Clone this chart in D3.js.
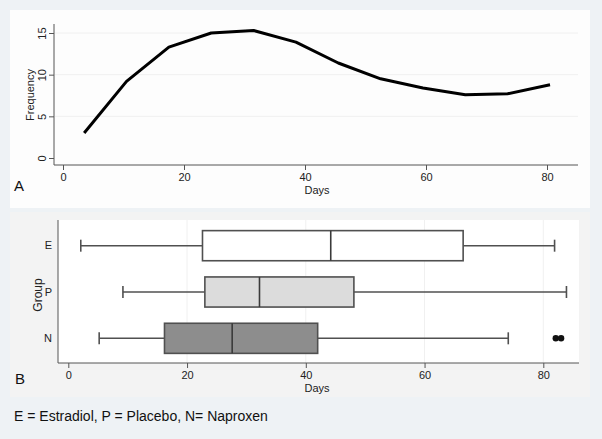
<!DOCTYPE html>
<html>
<head>
<meta charset="utf-8">
<script src="https://cdn.jsdelivr.net/npm/d3@7"></script>
<style>
  body { margin: 0; background: #eef2f5; }
  svg { display: block; font-family: "Liberation Sans", Arial, sans-serif; }
</style>
</head>
<body>
<svg id="chart" width="602" height="439"></svg>
<script>
// panel A: frequency polygon, bin midpoints in days
var days = [3.5, 10.5, 17.5, 24.5, 31.5, 38.5, 45.5, 52.5, 59.5, 66.5, 73.5, 80.5];
var freq = [3, 9.2, 13.3, 15, 15.3, 13.9, 11.4, 9.5, 8.4, 7.6, 7.7, 8.8];
var freqTicks = [0, 5, 10, 15];
var dayTicks = [0, 20, 40, 60, 80];

// panel B: boxplots by group
var groups = ["E", "P", "N"];
var lowWhisker = [2.1, 9.2, 5.2];
var q1 = [22.6, 23, 16.2];
var median = [44.2, 32.2, 27.6];
var q3 = [66.5, 48.1, 42];
var highWhisker = [81.9, 83.9, 74.1];
var outliers = [[], [], [82.1, 83]];
var boxFill = ["#ffffff", "#dcdcdc", "#8d8d8d"];

var svg = d3.select("#chart");

// backgrounds
svg.append("rect").attr("width", 602).attr("height", 439).attr("fill", "#eef2f5");
svg.append("rect").attr("x", 10).attr("y", 10).attr("width", 580).attr("height", 198).attr("fill", "#fdfdfd");
svg.append("rect").attr("x", 10).attr("y", 212).attr("width", 580).attr("height", 185).attr("fill", "#f3f3f3");
svg.append("rect").attr("x", 58).attr("y", 220).attr("width", 521).attr("height", 143).attr("fill", "#ffffff");

function styleAxis(a) {
    a.selectAll("line, .domain").attr("stroke", "#555");
    a.selectAll("text").attr("fill", "#222").style("font-size", "11px");
}

// ---- panel A
var xA = d3.scaleLinear().domain([0, 80]).range([63, 547]);
var yA = d3.scaleLinear().domain([0, 15]).range([158, 33]);

var gA = svg.append("g");
gA.selectAll(".grid").data(freqTicks.slice(1)).enter().append("line")
    .attr("x1", 55).attr("x2", 578)
    .attr("y1", d => yA(d)).attr("y2", d => yA(d))
    .attr("stroke", "#f0f0f0").attr("stroke-width", 1);

var axA = gA.append("g").attr("transform", "translate(0,165)")
    .call(d3.axisBottom(xA).tickValues(dayTicks).tickSize(5).tickSizeOuter(0));
axA.select(".domain").attr("d", "M54,0H578");

var ayA = gA.append("g").attr("transform", "translate(54,0)")
    .call(d3.axisLeft(yA).tickValues(freqTicks).tickSize(5).tickSizeOuter(0));
ayA.select(".domain").attr("d", "M0,24V165");
// Stata-style vertical tick labels
ayA.selectAll(".tick text")
    .attr("x", 0).attr("y", 0).attr("dy", 0)
    .attr("text-anchor", "middle")
    .attr("transform", "translate(-8,0) rotate(-90)");
styleAxis(axA);
styleAxis(ayA);

gA.append("path")
    .datum(days.map((d, i) => [d, freq[i]]))
    .attr("fill", "none").attr("stroke", "#000").attr("stroke-width", 3)
    .attr("stroke-linejoin", "round")
    .attr("d", d3.line().x(d => xA(d[0])).y(d => yA(d[1])));

gA.append("text").attr("x", 317).attr("y", 194).attr("text-anchor", "middle")
    .style("font-size", "11px").attr("fill", "#222").text("Days");
gA.append("text").attr("transform", "translate(34,95) rotate(-90)").attr("text-anchor", "middle")
    .style("font-size", "11px").attr("fill", "#222").text("Frequency");
gA.append("text").attr("x", 14).attr("y", 191).style("font-size", "15px").attr("fill", "#111").text("A");

// ---- panel B
var xB = d3.scaleLinear().domain([0, 80]).range([68.3, 543.3]);
var yB = d3.scaleBand().domain(groups).range([226, 358]).paddingInner(0.35).paddingOuter(0.1);

var gB = svg.append("g");
gB.selectAll(".vgrid").data(dayTicks.slice(1)).enter().append("line")
    .attr("x1", d => xB(d)).attr("x2", d => xB(d))
    .attr("y1", 220).attr("y2", 363)
    .attr("stroke", "#f0f0f0").attr("stroke-width", 1);

var axB = gB.append("g").attr("transform", "translate(0,363)")
    .call(d3.axisBottom(xB).tickValues(dayTicks).tickSize(5).tickSizeOuter(0));
axB.select(".domain").attr("d", "M58,0H579");
var ayB = gB.append("g").attr("transform", "translate(58,0)")
    .call(d3.axisLeft(yB).tickSize(0).tickPadding(6));
ayB.select(".domain").attr("d", "M0,220V363");
styleAxis(axB);
styleAxis(ayB);

var mid = d => yB(d) + yB.bandwidth() / 2;
var boxes = gB.selectAll(".box").data(groups).enter().append("g");
var sw = 1.6, col = "#505050";
boxes.append("line")
    .attr("x1", (d, i) => xB(lowWhisker[i])).attr("x2", (d, i) => xB(q1[i]))
    .attr("y1", mid).attr("y2", mid)
    .attr("stroke", col).attr("stroke-width", sw);
boxes.append("line")
    .attr("x1", (d, i) => xB(q3[i])).attr("x2", (d, i) => xB(highWhisker[i]))
    .attr("y1", mid).attr("y2", mid)
    .attr("stroke", col).attr("stroke-width", sw);
boxes.selectAll(".cap").data((d, i) => [[d, lowWhisker[i]], [d, highWhisker[i]]]).enter().append("line")
    .attr("x1", d => xB(d[1])).attr("x2", d => xB(d[1]))
    .attr("y1", d => mid(d[0]) - 6).attr("y2", d => mid(d[0]) + 6)
    .attr("stroke", col).attr("stroke-width", sw);
boxes.append("rect")
    .attr("x", (d, i) => xB(q1[i])).attr("width", (d, i) => xB(q3[i]) - xB(q1[i]))
    .attr("y", d => yB(d)).attr("height", yB.bandwidth())
    .attr("fill", (d, i) => boxFill[i]).attr("stroke", col).attr("stroke-width", sw);
boxes.append("line")
    .attr("x1", (d, i) => xB(median[i])).attr("x2", (d, i) => xB(median[i]))
    .attr("y1", d => yB(d)).attr("y2", d => yB(d) + yB.bandwidth())
    .attr("stroke", "#3a3a3a").attr("stroke-width", sw);
boxes.selectAll(".out").data((d, i) => outliers[i].map(v => [d, v])).enter().append("circle")
    .attr("cx", d => xB(d[1])).attr("cy", d => mid(d[0]))
    .attr("r", 3.2).attr("fill", "#111");

gB.append("text").attr("x", 317).attr("y", 392).attr("text-anchor", "middle")
    .style("font-size", "11px").attr("fill", "#222").text("Days");
gB.append("text").attr("transform", "translate(42,295) rotate(-90)").attr("text-anchor", "middle")
    .style("font-size", "12px").attr("fill", "#222").text("Group");
gB.append("text").attr("x", 15).attr("y", 384).style("font-size", "15px").attr("fill", "#111").text("B");

svg.append("text").attr("x", 14).attr("y", 421).style("font-size", "14px").attr("fill", "#111")
    .text("E = Estradiol, P = Placebo, N= Naproxen");
</script>
</body>
</html>
